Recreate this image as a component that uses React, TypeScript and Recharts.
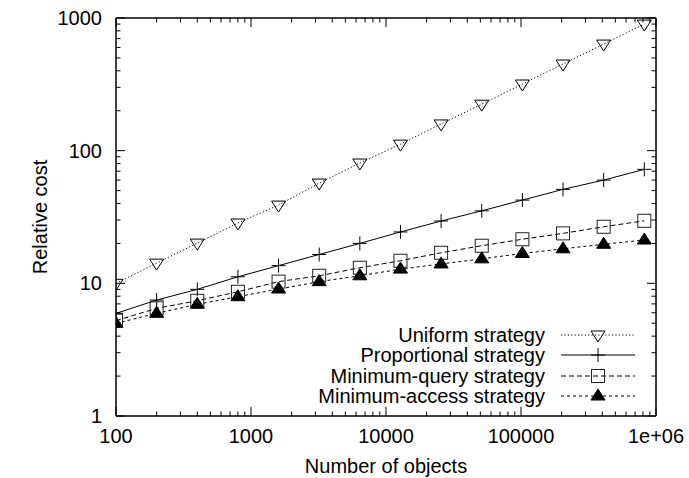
import React from "react";
import { Legend, Line, LineChart, XAxis, YAxis } from "recharts";

// number of objects (x) and relative cost per strategy (y)
const objects = [100, 200, 400, 800, 1600, 3200, 6400, 12800, 25600, 51200, 102400, 204800, 409600, 819200];
const uniform = [10, 14.2, 20.1, 28.5, 38.9, 57, 80.7, 112, 159, 224, 318, 450, 636, 900];
const proportional = [5.94, 7.48, 9.01, 11.2, 13.6, 16.5, 20.0, 24.4, 29.5, 35.2, 42.4, 51.1, 60.0, 72.3];
const minQuery = [5.23, 6.48, 7.39, 8.64, 10.3, 11.4, 13.1, 14.8, 17.0, 19.2, 21.5, 23.8, 26.7, 29.6];
const minAccess = [4.99, 5.94, 6.95, 7.93, 9.06, 10.3, 11.4, 12.8, 14.0, 15.3, 16.8, 18.2, 19.7, 21.2];

const seriesKeys = ["uniform", "proportional", "minQuery", "minAccess"];
const seriesNames = ["Uniform strategy", "Proportional strategy", "Minimum-query strategy", "Minimum-access strategy"];

const xDecades = [100, 1000, 10000, 100000, 1000000];
const yDecades = [1, 10, 100, 1000];
const minorSteps = [2, 3, 4, 5, 6, 7, 8, 9];

const withMinor = (decades: number[]) => {
  const out: number[] = [];
  decades.forEach((d, i) => {
    out.push(d);
    if (i < decades.length - 1) minorSteps.forEach((m) => out.push(d * m));
  });
  return out;
};
const xTicks = withMinor(xDecades);
const yTicks = withMinor(yDecades);

const data = objects.map((n, i) => ({
  n,
  uniform: uniform[i],
  proportional: proportional[i],
  minQuery: minQuery[i],
  minAccess: minAccess[i],
}));

const FONT = "'Liberation Sans', Arial, Helvetica, sans-serif";
const FS = 20;

const isMajor = (v: number) => {
  const l = Math.log10(v);
  return Math.abs(l - Math.round(l)) < 1e-9;
};
const fmtX = (v: number) => (v >= 1000000 ? "1e+06" : String(v));

const AxisTick = (props: any) => {
  const { x, y, payload, side, showLabel } = props;
  const v = payload.value;
  const len = isMajor(v) ? 9 : 4.5;
  let line;
  let label = null;
  if (side === "bottom") {
    line = <line x1={x} y1={y} x2={x} y2={y - len} stroke="#000" />;
    if (showLabel && isMajor(v))
      label = (
        <text x={x} y={y + 27} textAnchor="middle" fontSize={FS} fontFamily={FONT} fill="#000">
          {fmtX(v)}
        </text>
      );
  } else if (side === "top") {
    line = <line x1={x} y1={y} x2={x} y2={y + len} stroke="#000" />;
  } else if (side === "left") {
    line = <line x1={x} y1={y} x2={x + len} y2={y} stroke="#000" />;
    if (showLabel && isMajor(v))
      label = (
        <text x={x - 14} y={y + 7} textAnchor="end" fontSize={FS} fontFamily={FONT} fill="#000">
          {String(v)}
        </text>
      );
  } else {
    line = <line x1={x} y1={y} x2={x - len} y2={y} stroke="#000" />;
  }
  return (
    <g>
      {line}
      {label}
    </g>
  );
};

const Marker = ({ kind, cx, cy }: { kind: string; cx: number; cy: number }) => {
  if (kind === "down")
    return (
      <polygon
        points={`${cx - 7},${cy - 4} ${cx + 7},${cy - 4} ${cx},${cy + 7}`}
        fill="none"
        stroke="#000"
      />
    );
  if (kind === "plus")
    return <path d={`M${cx - 7},${cy}H${cx + 7}M${cx},${cy - 7}V${cy + 7}`} stroke="#000" />;
  if (kind === "square")
    return <rect x={cx - 6.5} y={cy - 6.5} width={13} height={13} fill="none" stroke="#222" />;
  return (
    <polygon
      points={`${cx - 7},${cy + 4} ${cx + 7},${cy + 4} ${cx},${cy - 7}`}
      fill="#000"
      stroke="#000"
    />
  );
};

const seriesStyle: Record<string, { dash?: string; marker: string }> = {
  uniform: { dash: "1.2 2.2", marker: "down" },
  proportional: { marker: "plus" },
  minQuery: { dash: "5 3", marker: "square" },
  minAccess: { dash: "3 3", marker: "up" },
};

const dotFor = (kind: string) => (p: any) =>
  p.cx == null ? <g key={p.index} /> : (
    <g key={p.index}>
      <Marker kind={kind} cx={p.cx} cy={p.cy} />
    </g>
  );

const LegendContent = ({ payload }: any) => {
  const items = [...(payload || [])].sort(
    (a: any, b: any) => seriesKeys.indexOf(a.dataKey) - seriesKeys.indexOf(b.dataKey)
  );
  return (
    <div style={{ display: "flex", flexDirection: "column" }}>
      {items.map((e: any) => {
        const st = seriesStyle[e.dataKey];
        return (
          <div
            key={e.dataKey}
            style={{
              display: "flex",
              alignItems: "center",
              justifyContent: "flex-end",
              height: 20.3,
            }}
          >
            <span style={{ fontSize: FS, fontFamily: FONT, color: "#000", marginRight: 16, lineHeight: "20px" }}>
              {e.value}
            </span>
            <svg width={74} height={20} style={{ display: "block" }}>
              <line x1={0} y1={10} x2={74} y2={10} stroke="#000" strokeDasharray={st.dash} />
              <Marker kind={st.marker} cx={37} cy={10} />
            </svg>
          </div>
        );
      })}
    </div>
  );
};

const axisLine = { stroke: "#000", strokeWidth: 1.5 };

export default function App() {
  return (
    <div style={{ position: "fixed", left: 0, top: 0, background: "#fff" }}>
      <LineChart width={689} height={478} data={data} margin={{ top: 17, right: 32, bottom: 0, left: 0 }}>
        <XAxis
          dataKey="n"
          type="number"
          scale="log"
          domain={[100, 1000000]}
          allowDataOverflow
          ticks={xTicks}
          interval={0}
          tickSize={0}
          tickMargin={0}
          tickLine={false}
          axisLine={axisLine}
          height={62}
          tick={<AxisTick side="bottom" showLabel />}
          label={(lp: any) => {
            const vb = lp.viewBox;
            return (
              <text x={vb.x + vb.width / 2} y={vb.y + 57} textAnchor="middle" fontSize={FS} fontFamily={FONT} fill="#000">
                Number of objects
              </text>
            );
          }}
        />
        <XAxis
          xAxisId="top"
          orientation="top"
          dataKey="n"
          type="number"
          scale="log"
          domain={[100, 1000000]}
          allowDataOverflow
          ticks={xTicks}
          interval={0}
          tickSize={0}
          tickMargin={0}
          tickLine={false}
          axisLine={axisLine}
          height={1}
          tick={<AxisTick side="top" />}
        />
        <YAxis
          type="number"
          scale="log"
          domain={[1, 1000]}
          allowDataOverflow
          ticks={yTicks}
          interval={0}
          tickSize={0}
          tickMargin={0}
          tickLine={false}
          axisLine={axisLine}
          width={116}
          tick={<AxisTick side="left" showLabel />}
          label={(lp: any) => {
            const vb = lp.viewBox;
            const cy = vb.y + vb.height / 2;
            return (
              <text
                x={40}
                y={cy}
                transform={`rotate(-90 40 ${cy})`}
                textAnchor="middle"
                dominantBaseline="central"
                fontSize={FS}
                fontFamily={FONT}
                fill="#000"
              >
                Relative cost
              </text>
            );
          }}
        />
        <YAxis
          yAxisId="right"
          orientation="right"
          type="number"
          scale="log"
          domain={[1, 1000]}
          allowDataOverflow
          ticks={yTicks}
          interval={0}
          tickSize={0}
          tickMargin={0}
          tickLine={false}
          axisLine={axisLine}
          width={1}
          tick={<AxisTick side="right" />}
        />
        <Legend
          layout="vertical"
          align="center"
          verticalAlign="middle"
          content={<LegendContent />}
          wrapperStyle={{ position: "absolute", left: 200, top: 325, width: 435, height: 82 }}
        />
        {seriesKeys.map((k, i) => (
          <Line
            key={k}
            dataKey={k}
            name={seriesNames[i]}
            type="linear"
            stroke="#000"
            strokeWidth={1}
            strokeDasharray={seriesStyle[k].dash}
            dot={dotFor(seriesStyle[k].marker)}
            activeDot={false}
            isAnimationActive={false}
          />
        ))}
      </LineChart>
    </div>
  );
}
